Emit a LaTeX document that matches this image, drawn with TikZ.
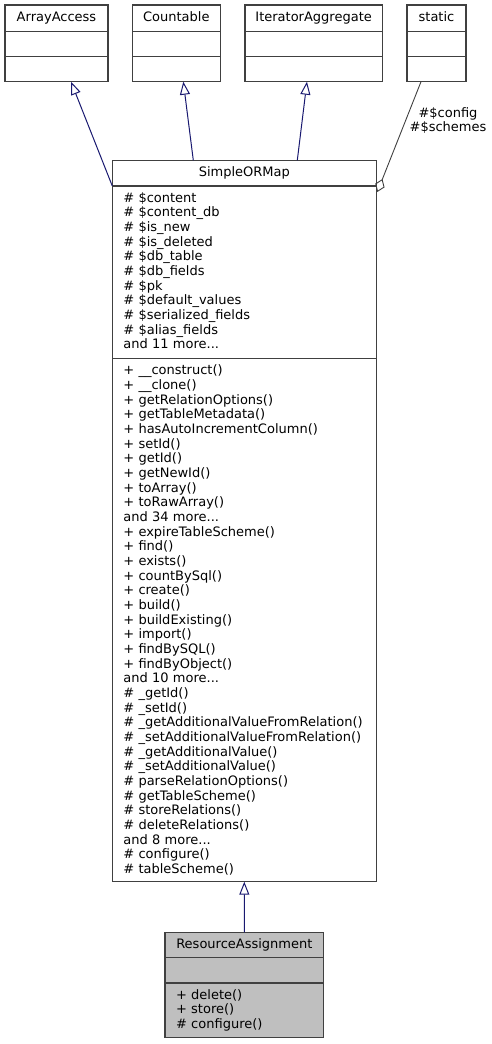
\documentclass[tikz,border=0pt]{standalone}
\usepackage{fontspec}
\setmainfont{DejaVu Sans}
\usetikzlibrary{arrows.meta}
\definecolor{bordergray}{HTML}{404040}
\definecolor{inhblue}{HTML}{191970}
\definecolor{rafill}{HTML}{BFBFBF}
\newcommand{\dvfont}{\fontsize{13}{14.67}\selectfont}
\newcommand{\lastdepth}{\rule[-3pt]{0pt}{0pt}}
\begin{document}
\begin{tikzpicture}[x=1pt,y=-1pt,
  part/.style={draw=bordergray, line width=1.1pt, rectangle, inner sep=0pt, outer sep=0pt, anchor=north west, font=\dvfont},
  head/.style={part, align=center, text height=10pt, text depth=3pt},
  body/.style={part, align=left, inner xsep=11pt},
  inh/.style={draw=inhblue, line width=1pt, -{Triangle[open, length=13pt, width=10pt]}},
  agg/.style={draw=bordergray, line width=0.9pt, -{Diamond[open, length=14pt, width=10pt]}},
  lbl/.style={font=\dvfont, align=center, inner sep=0pt}
]
\useasboundingbox (0,0) rectangle (491,1044);

% ArrayAccess
\node[head, minimum width=103pt, minimum height=26.7pt] (aa_t) at (5,5) {ArrayAccess};
\node[part, minimum width=103pt, minimum height=25pt] (aa_a) at (aa_t.south west) {};
\node[part, minimum width=103pt, minimum height=25pt] (aa_m) at (aa_a.south west) {};

% Countable
\node[head, minimum width=88pt, minimum height=26.7pt] (ct_t) at (132.3,5) {Countable};
\node[part, minimum width=88pt, minimum height=25pt] (ct_a) at (ct_t.south west) {};
\node[part, minimum width=88pt, minimum height=25pt] (ct_m) at (ct_a.south west) {};

% IteratorAggregate
\node[head, minimum width=137.3pt, minimum height=26.7pt] (ia_t) at (245,5) {IteratorAggregate};
\node[part, minimum width=137.3pt, minimum height=25pt] (ia_a) at (ia_t.south west) {};
\node[part, minimum width=137.3pt, minimum height=25pt] (ia_m) at (ia_a.south west) {};

% static
\node[head, minimum width=59pt, minimum height=26.7pt] (st_t) at (407,5) {static};
\node[part, minimum width=59pt, minimum height=25pt] (st_a) at (st_t.south west) {};
\node[part, minimum width=59pt, minimum height=25pt] (st_m) at (st_a.south west) {};

% SimpleORMap
\node[head, minimum width=264pt, minimum height=25.7pt] (so_t) at (112.3,160.3) {SimpleORMap};
\node[body, text width=242pt, minimum height=172.3pt] (so_a) at (so_t.south west) {%
\# \$content\\
\# \$content\_db\\
\# \$is\_new\\
\# \$is\_deleted\\
\# \$db\_table\\
\# \$db\_fields\\
\# \$pk\\
\# \$default\_values\\
\# \$serialized\_fields\\
\# \$alias\_fields\\
and 11 more...\lastdepth};
\node[body, text width=242pt, minimum height=523.4pt] (so_m) at (so_a.south west) {%
+ \_\_construct()\\
+ \_\_clone()\\
+ getRelationOptions()\\
+ getTableMetadata()\\
+ hasAutoIncrementColumn()\\
+ setId()\\
+ getId()\\
+ getNewId()\\
+ toArray()\\
+ toRawArray()\\
and 34 more...\\
+ expireTableScheme()\\
+ find()\\
+ exists()\\
+ countBySql()\\
+ create()\\
+ build()\\
+ buildExisting()\\
+ import()\\
+ findBySQL()\\
+ findByObject()\\
and 10 more...\\
\# \_getId()\\
\# \_setId()\\
\# \_getAdditionalValueFromRelation()\\
\# \_setAdditionalValueFromRelation()\\
\# \_getAdditionalValue()\\
\# \_setAdditionalValue()\\
\# parseRelationOptions()\\
\# getTableScheme()\\
\# storeRelations()\\
\# deleteRelations()\\
and 8 more...\\
\# configure()\\
\# tableScheme()};

% ResourceAssignment
\node[head, fill=rafill, minimum width=158.7pt, minimum height=25.4pt] (ra_t) at (165,932.3) {ResourceAssignment};
\node[part, fill=rafill, minimum width=158.7pt, minimum height=25.3pt] (ra_a) at (ra_t.south west) {};
\node[body, fill=rafill, text width=136.7pt, minimum height=54.7pt] (ra_m) at (ra_a.south west) {%
+ delete()\\
+ store()\\
\# configure()};

% inheritance edges
\draw[inh] (so_t.south west) -- ([xshift=14.5pt]aa_m.south);
\draw[inh] ([xshift=81pt]so_t.north west) -- ([xshift=7pt]ct_m.south);
\draw[inh] ([xshift=185pt]so_t.north west) -- ([xshift=-6.7pt]ia_m.south);
\draw[inh] (ra_t.north) -- (so_m.south);

% aggregation edge
\draw[agg] ([xshift=-15.5pt]st_m.south) -- ([xshift=1pt,yshift=-6pt]so_t.south east);
\node[lbl] (agglbl) at (448,120.5) {\#\$config\\\#\$schemes};
\end{tikzpicture}
\end{document}
